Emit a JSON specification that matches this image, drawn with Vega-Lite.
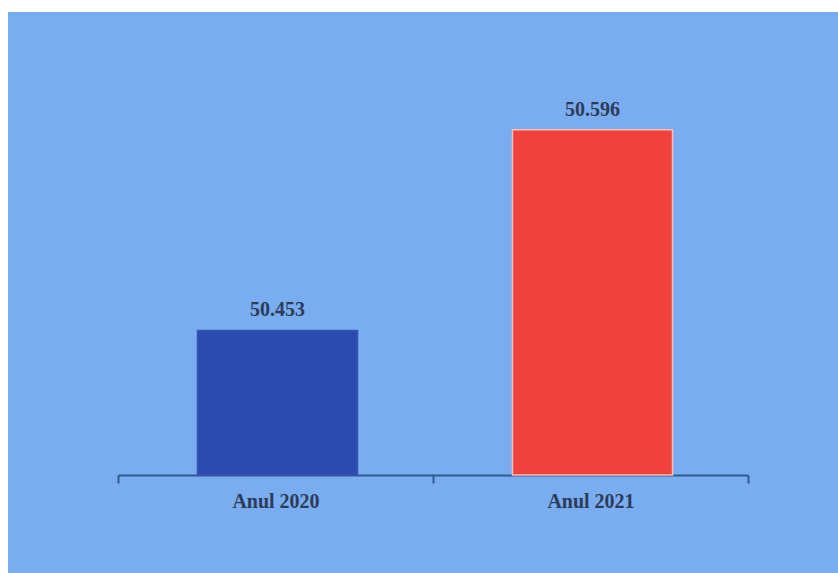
{
  "$schema": "https://vega.github.io/schema/vega-lite/v6.json",
  "width": 830,
  "height": 561,
  "autosize": {"type": "none"},
  "padding": {"left": 8, "top": 12, "right": 0, "bottom": 0},
  "background": "#ffffff",
  "config": {"view": {"fill": "#7aacf0", "stroke": null}},
  "data": {"values": [
    {"an": "Anul 2020", "valoare": 50.453, "culoare": "#2d4baf"},
    {"an": "Anul 2021", "valoare": 50.596, "culoare": "#f0413c"}
  ]},
  "encoding": {
    "x": {
      "field": "an", "type": "nominal", "sort": null,
      "scale": {"range": [110, 740], "paddingInner": 0, "paddingOuter": 0},
      "axis": {
        "title": null, "labelAngle": 0, "offset": -98,
        "tickBand": "extent", "tickSize": 8, "tickWidth": 2, "tickColor": "#2c5d8e",
        "domainColor": "#2c5d8e", "domainWidth": 2,
        "labelFont": "Liberation Serif", "labelFontWeight": "bold", "labelFontSize": 20,
        "labelColor": "#2b3d58", "labelPadding": 8, "grid": false
      }
    },
    "y": {
      "field": "valoare", "type": "quantitative",
      "scale": {"domain": [50.35, 50.66], "range": [463, 28], "zero": false, "nice": false},
      "axis": null
    }
  },
  "layer": [
    {
      "mark": {"type": "bar", "width": {"band": 0.508}, "xOffset": 2},
      "encoding": {
        "y2": {"datum": 50.35},
        "color": {"field": "culoare", "type": "nominal", "scale": null},
        "stroke": {"field": "an", "type": "nominal", "scale": {"domain": ["Anul 2020", "Anul 2021"], "range": ["#3553b5", "#f7c0b8"]}, "legend": null},
        "strokeWidth": {"value": 1.5}
      }
    },
    {
      "mark": {"type": "text", "baseline": "bottom", "dy": -10, "dx": 2, "font": "Liberation Serif", "fontWeight": "bold", "fontSize": 20, "color": "#2b3d58"},
      "encoding": {
        "text": {"field": "valoare", "type": "quantitative", "format": ".3f"}
      }
    }
  ]
}
